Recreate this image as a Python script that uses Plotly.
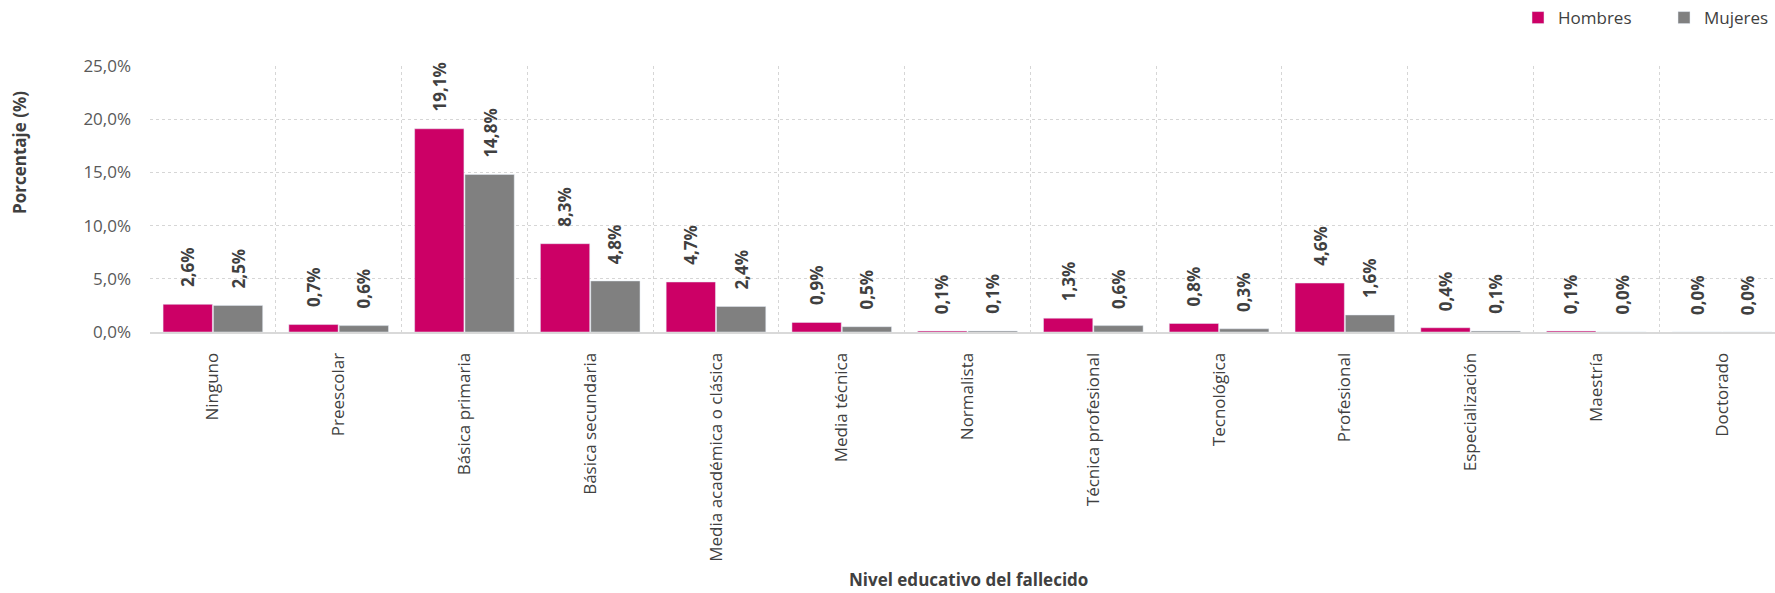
import plotly.graph_objects as go

niveles = [
    "Ninguno", "Preescolar", "Básica primaria", "Básica secundaria",
    "Media académica o clásica", "Media técnica", "Normalista",
    "Técnica profesional", "Tecnológica", "Profesional",
    "Especialización", "Maestría", "Doctorado",
]
hombres = [2.6, 0.7, 19.1, 8.3, 4.7, 0.9, 0.1, 1.3, 0.8, 4.6, 0.4, 0.1, 0.0]
mujeres = [2.5, 0.6, 14.8, 4.8, 2.4, 0.5, 0.1, 0.6, 0.3, 1.6, 0.1, 0.0, 0.0]
y_ticks = [0, 5, 10, 15, 20, 25]

COLOR_H = "#CC0066"
COLOR_M = "#808080"
FONT = "Open Sans"


def etiqueta(v):
    return f"{v:.1f}".replace(".", ",") + "%"


fig = go.Figure()
fig.add_trace(go.Bar(x=niveles, y=hombres, name="Hombres",
                     marker_color=COLOR_H, legend="legend"))
fig.add_trace(go.Bar(x=niveles, y=mujeres, name="Mujeres",
                     marker_color=COLOR_M, legend="legend2"))

# value labels above each bar, rotated
annotations = []
for i, (h, m) in enumerate(zip(hombres, mujeres)):
    for off, v in ((-0.2, h), (0.2, m)):
        annotations.append(dict(
            x=i + off, y=v, xref="x", yref="y",
            text=f"<b>{etiqueta(v)}</b>", showarrow=False,
            textangle=-90, xanchor="center", yanchor="bottom", yshift=15,
            font=dict(family=FONT, size=17, color="#404040"),
        ))

# axis titles
annotations.append(dict(
    text="<b>Porcentaje (%)</b>", xref="paper", yref="paper",
    x=0, y=0.673, xshift=-130, textangle=-90, showarrow=False,
    xanchor="center", yanchor="middle",
    font=dict(family=FONT, size=17, color="#404040"),
))
annotations.append(dict(
    text="<b>Nivel educativo del fallecido</b>", xref="paper", yref="paper",
    x=0.5037, y=0, yshift=-261, showarrow=False,
    xanchor="center", yanchor="bottom",
    font=dict(family=FONT, size=17, color="#404040"),
))

legend_style = dict(
    orientation="h",
    xref="container", yref="container",
    xanchor="left", yanchor="middle", y=0.9696,
    font=dict(family=FONT, size=17, color="#404040"),
    bgcolor="rgba(0,0,0,0)",
)

fig.update_layout(
    width=1775,
    height=593,
    margin=dict(l=150, r=0, t=66, b=261),
    paper_bgcolor="white",
    plot_bgcolor="white",
    barmode="group",
    bargap=0.2,
    bargroupgap=0.02,
    separators=",.",
    font=dict(family=FONT, size=17, color="#404040"),
    showlegend=True,
    legend=dict(legend_style, x=1518 / 1775),
    legend2=dict(legend_style, x=1664 / 1775),
    annotations=annotations,
)

fig.update_xaxes(
    type="category",
    range=[-0.5, 12.42],
    tickangle=-90,
    tickson="boundaries",
    ticks="",
    showgrid=True,
    gridcolor="#d6d6d6",
    griddash="dot",
    gridwidth=1,
    showline=True,
    linecolor="#d9d9d9",
    linewidth=2,
    ticklabelstandoff=12,
    tickfont=dict(family=FONT, size=17, color="#404040"),
)
fig.update_yaxes(
    range=[0, 25],
    tickvals=y_ticks,
    ticktext=[etiqueta(t) for t in y_ticks],
    showgrid=True,
    gridcolor="#d6d6d6",
    griddash="dot",
    gridwidth=1,
    zeroline=False,
    ticks="",
    ticklabelstandoff=18,
    tickfont=dict(family=FONT, size=17, color="#595959"),
)

# the page body has a default 8px margin; drop it so the figure fills the window
fig.write_html(
    "out.html",
    config={"displayModeBar": False},
    post_script="document.body.style.margin = '0';",
)
